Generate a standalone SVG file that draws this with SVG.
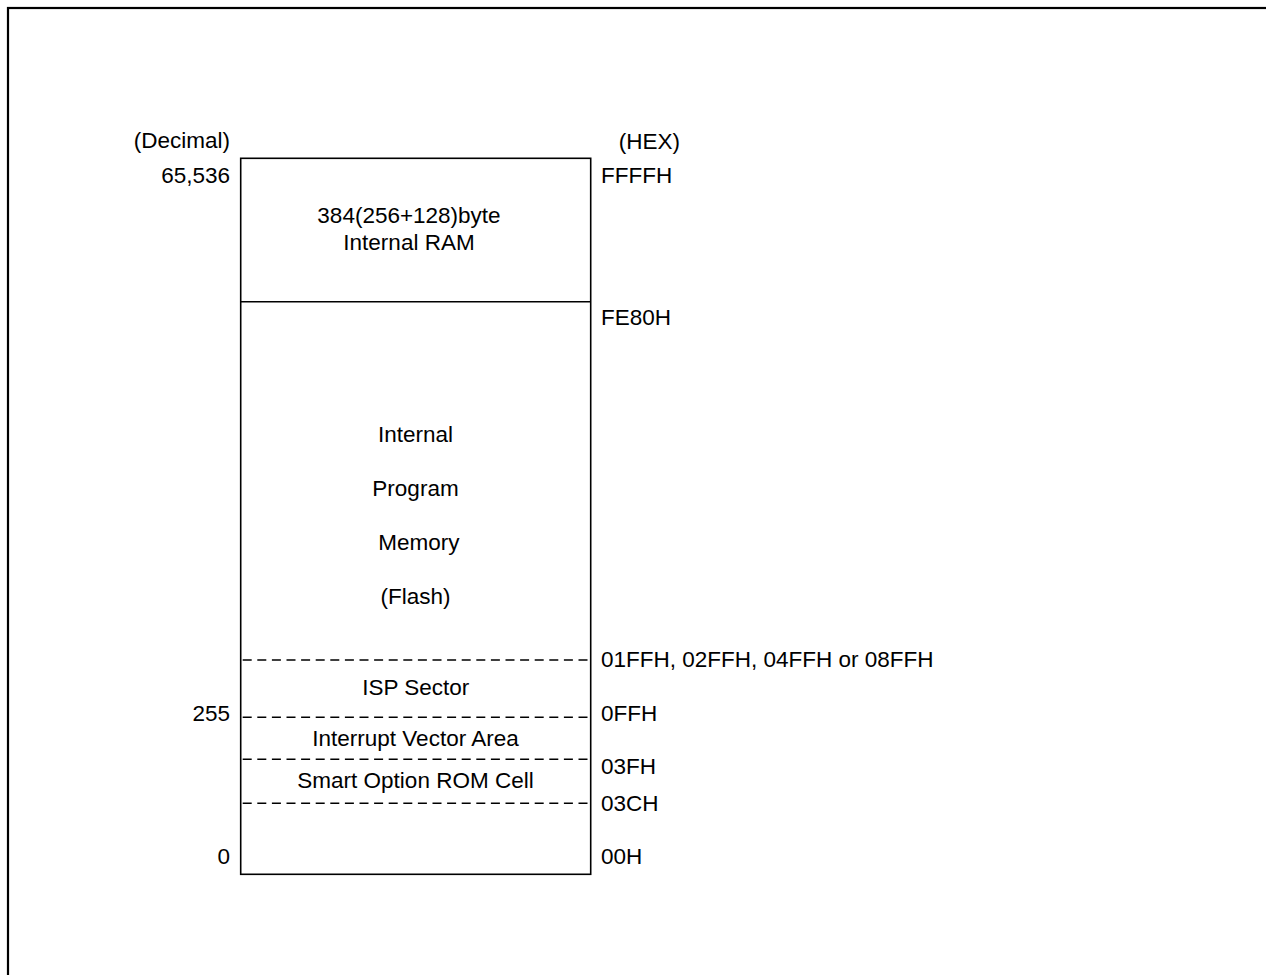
<svg xmlns="http://www.w3.org/2000/svg" width="1266" height="975" viewBox="0 0 1266 975">
<style>
text{font-family:"Liberation Sans",Arial,sans-serif;font-size:22.5px;fill:#000}
.c{text-anchor:middle}
.e{text-anchor:end}
.solid{fill:none;stroke:#000;stroke-width:1.6}
.dash{fill:none;stroke:#000;stroke-width:1.6;stroke-dasharray:9 5.6}
</style>
<rect x="0" y="0" width="1266" height="975" fill="#fff"/>
<rect x="8" y="8" width="1272" height="990" fill="none" stroke="#000" stroke-width="2.2"/>
<g id="labels">
<text x="230" y="148" class="e">(Decimal)</text>
<text x="680" y="149" class="e">(HEX)</text>
<text x="230" y="183" class="e">65,536</text>
<text x="230" y="721" class="e">255</text>
<text x="230" y="864" class="e">0</text>
<text x="601" y="183">FFFFH</text>
<text x="601" y="325">FE80H</text>
<text x="601" y="667">01FFH, 02FFH, 04FFH or 08FFH</text>
<text x="601" y="721">0FFH</text>
<text x="601" y="774">03FH</text>
<text x="601" y="811">03CH</text>
<text x="601" y="864">00H</text>
</g>
<g id="memory-map">
<rect class="solid" x="240.7" y="158.3" width="350" height="716"/>
</g>
<g id="ram">
<text x="409" y="223" class="c">384(256+128)byte</text>
<text x="409" y="250" class="c">Internal RAM</text>
</g>
<g id="flash">
<text x="415.5" y="442" class="c">Internal</text>
<text x="415.5" y="496" class="c">Program</text>
<text x="419" y="550" class="c">Memory</text>
<text x="415.5" y="604" class="c">(Flash)</text>
</g>
<g id="isp"><text x="415.7" y="695" class="c">ISP Sector</text></g>
<g id="ivt"><text x="415.5" y="746" class="c">Interrupt Vector Area</text></g>
<g id="smart"><text x="415.5" y="788" class="c">Smart Option ROM Cell</text></g>
<g id="dividers">
<line class="solid" x1="240.7" y1="301.7" x2="590.7" y2="301.7"/>
<line class="dash" x1="242.7" y1="660" x2="590.7" y2="660"/>
<line class="dash" x1="242.7" y1="717.3" x2="590.7" y2="717.3"/>
<line class="dash" x1="242.7" y1="759.3" x2="590.7" y2="759.3"/>
<line class="dash" x1="242.7" y1="803.3" x2="590.7" y2="803.3"/>
</g>
</svg>
